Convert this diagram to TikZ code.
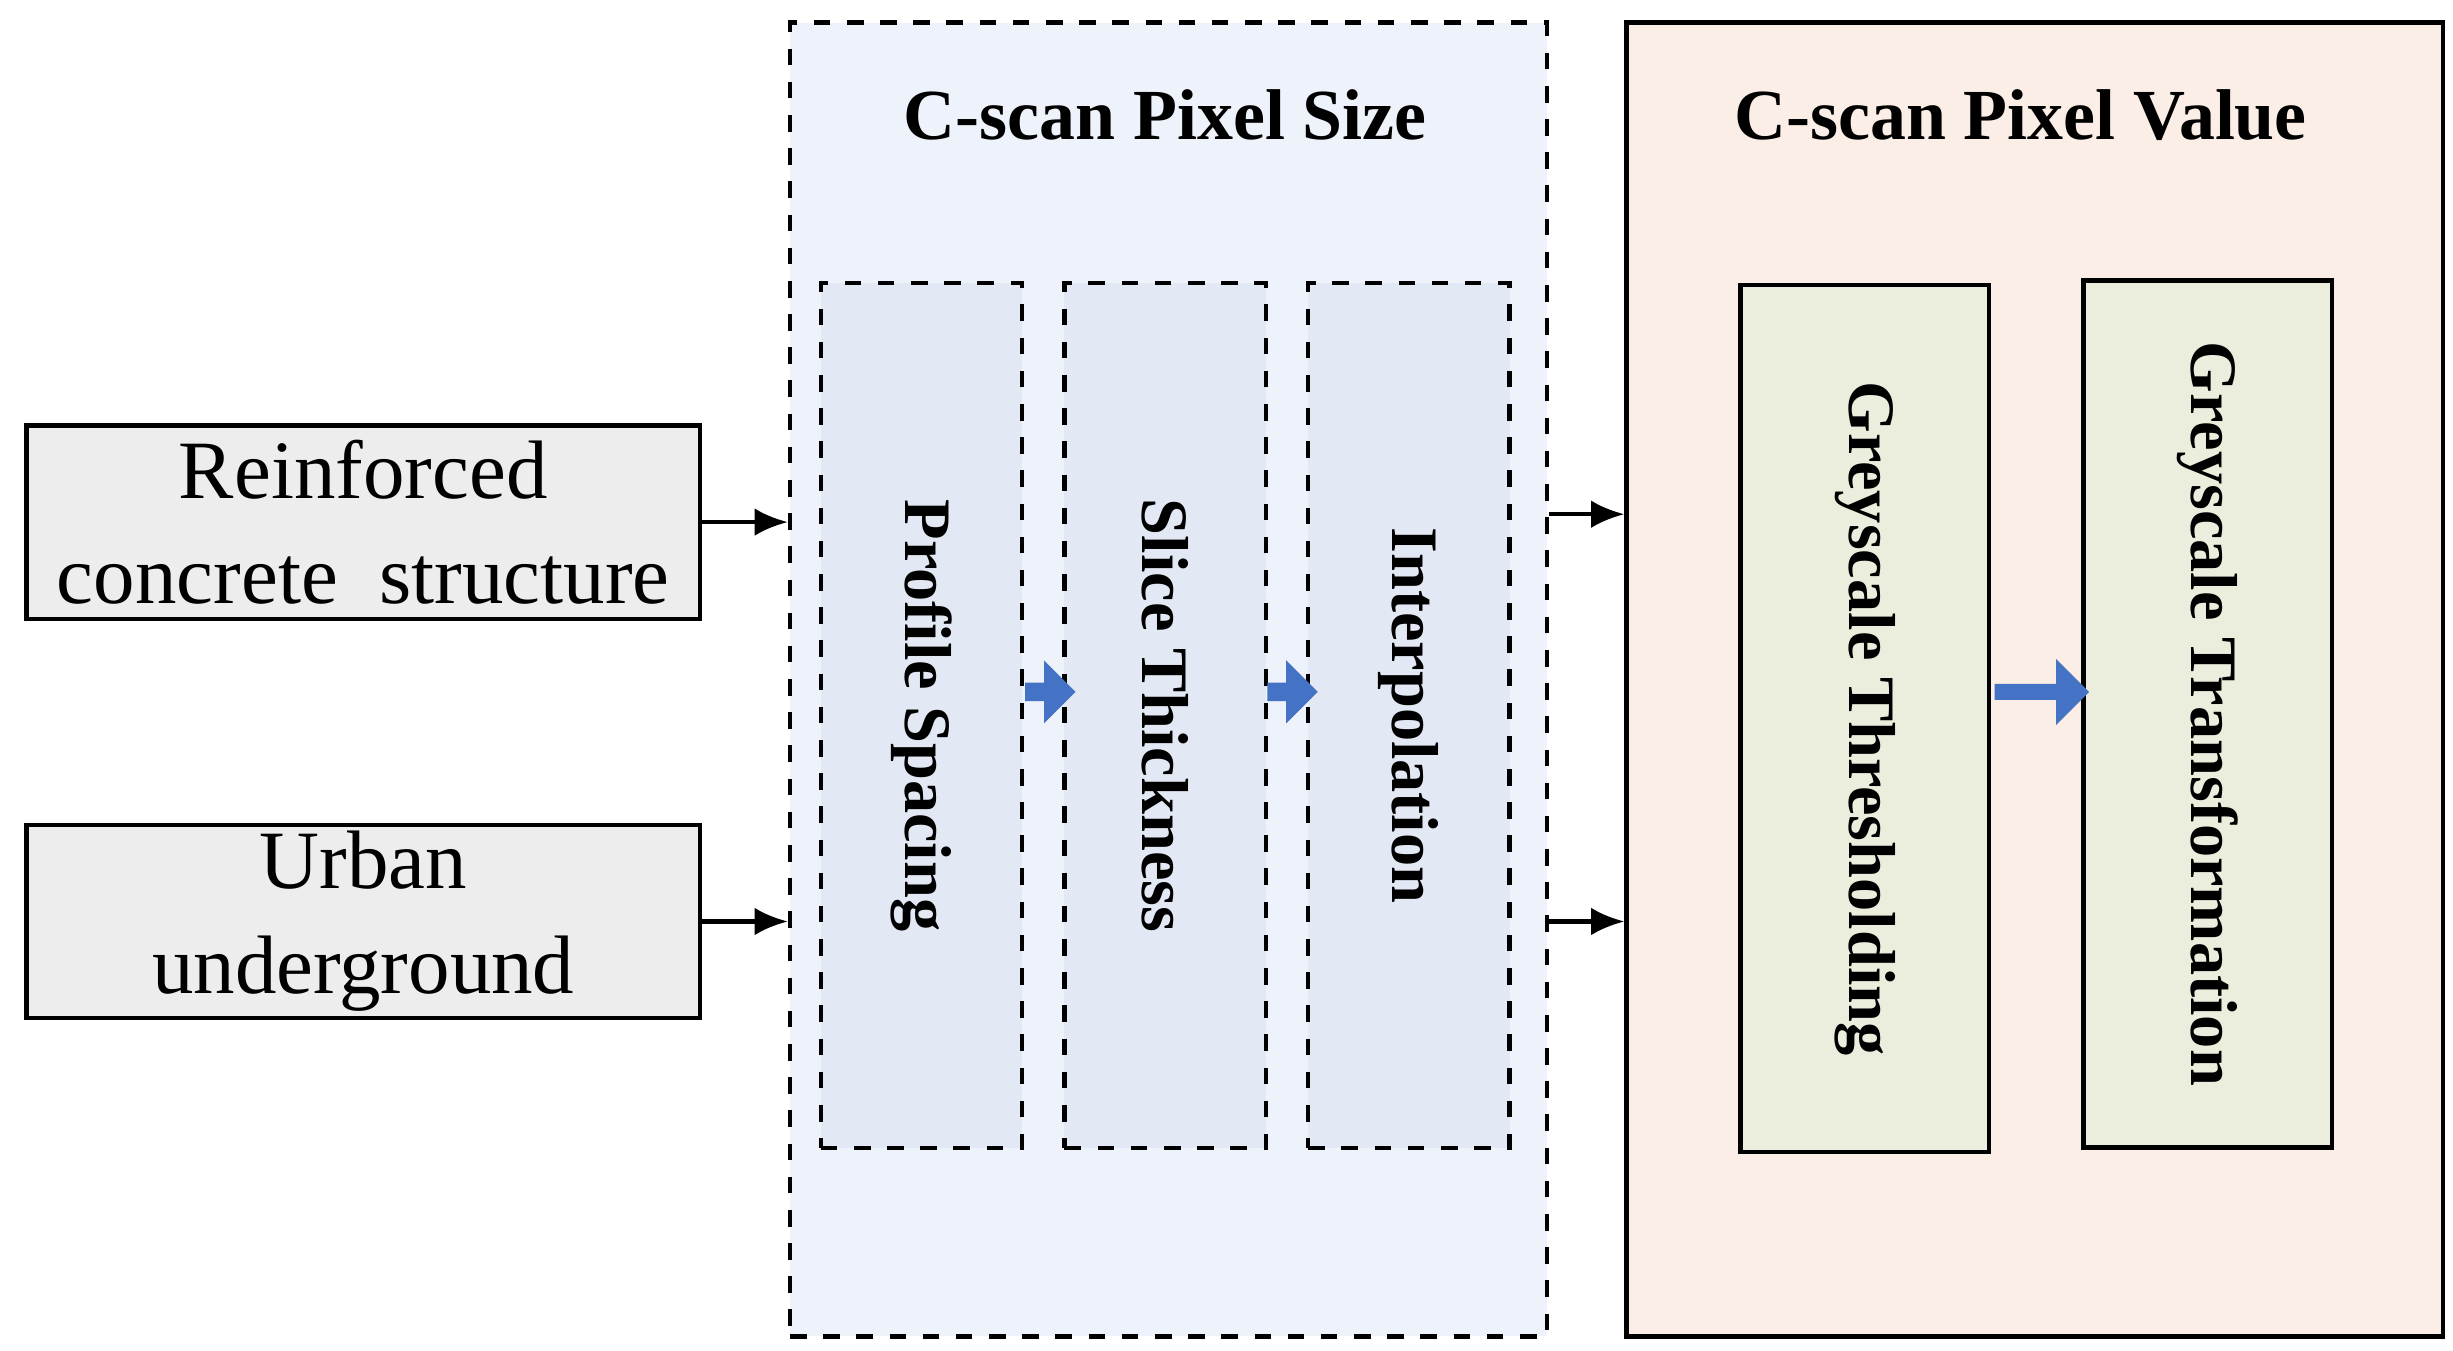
\documentclass[tikz,border=0pt]{standalone}
\usepackage{fontspec}
\setmainfont{Liberation Serif}
\usetikzlibrary{positioning,shapes.arrows,arrows.meta}
\definecolor{sizebg}{HTML}{EEF2FA}
\definecolor{stepbg}{HTML}{E3E9F4}
\definecolor{valuebg}{HTML}{FBEEE6}
\definecolor{valstep}{HTML}{EBEEDD}
\definecolor{inbg}{HTML}{EDEDED}
\definecolor{flow}{HTML}{4472C4}
\begin{document}
\begin{tikzpicture}[x=0.01cm,y=0.01cm]
      \tikzstyle{input}=[rectangle, draw=black, thick, fill=inbg, minimum width=4.28cm, minimum height=1.23cm, align=center, font=\fontsize{15}{19}\selectfont, inner sep=0pt]
      \tikzstyle{group}=[rectangle, draw=black, thick, anchor=north west, inner sep=0pt]
      \tikzstyle{sstep}=[rectangle, draw=black, thick, dashed, fill=stepbg, minimum width=1.28cm, minimum height=5.5cm, inner sep=0pt]
      \tikzstyle{vstep}=[rectangle, draw=black, thick, fill=valstep, minimum width=1.58cm, minimum height=5.51cm, inner sep=0pt]
      \tikzstyle{lbl}=[rotate=-90, font=\bfseries\fontsize{12}{14}\selectfont]
      \tikzstyle{ttl}=[font=\bfseries\fontsize{13}{15}\selectfont]
      \tikzstyle{flowarrow}=[single arrow, fill=flow, draw=none, single arrow head extend=0.1cm, minimum height=0.32cm, minimum width=0.4cm, inner sep=1pt]
      \tikzstyle{connect}=[-{Latex[length=6pt,width=5pt]}, thick]

      \useasboundingbox (0,0) rectangle (1560,-859);

      % inputs
      \node[input] (rc) at (231,-332) {Reinforced\\concrete\ \ structure};
      \node[input] (urban) at (231,-586) {Urban\\underground};

      % pixel size group
      \node[group, dashed, fill=sizebg, minimum width=4.81cm, minimum height=8.35cm] (size) at (501,-13) {};
      \node[ttl] (sizet) at (741,-73) {C-scan Pixel Size};
      \node[sstep] (prof) at (586,-455) {};
      \node[sstep] (slice) at (741,-455) {};
      \node[sstep] (interp) at (896,-455) {};
      \node[lbl] at (prof) {Profile Spacing};
      \node[lbl] at (slice) {Slice Thickness};
      \node[lbl] at (interp) {Interpolation};
      \node[flowarrow] (a1) at (665,-440) {};
      \node[flowarrow] (a2) at (819,-440) {};

      % pixel value group
      \node[group, fill=valuebg, minimum width=5.19cm, minimum height=8.35cm] (value) at (1033,-13) {};
      \node[ttl] (valuet) at (1285,-73) {C-scan Pixel Value};
      \node[vstep] (thres) at (1186,-457) {};
      \node[vstep] (trans) at (1404,-454) {};
      \node[lbl] at (thres) {Greyscale Thresholding};
      \node[lbl] at (trans) {Greyscale Transformation};
      \node[flowarrow, minimum height=0.6cm, minimum width=0.42cm, single arrow head extend=0.13cm] (a3) at (1296,-440) {};

      % connectors
      \draw[connect] (rc.east) -- (rc.east -| size.west);
      \draw[connect] (urban.east) -- (urban.east -| size.west);
      \draw[connect] (size.east |- 0,-327) -- (value.west |- 0,-327);
      \draw[connect] (size.east |- urban.east) -- (value.west |- urban.east);
    \end{tikzpicture}
\end{document}
